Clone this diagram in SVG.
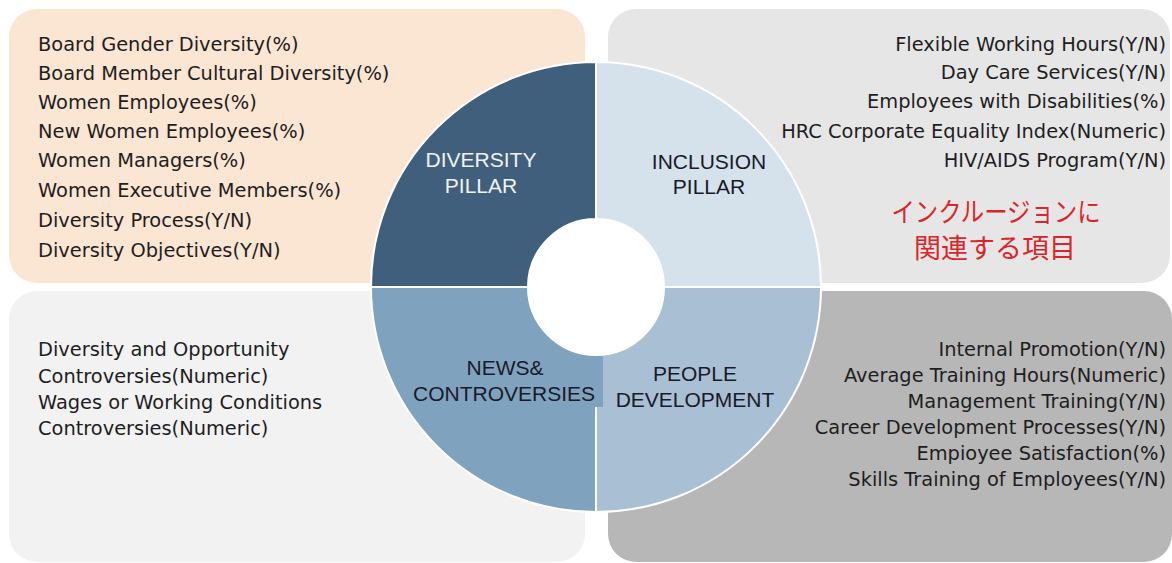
<svg xmlns="http://www.w3.org/2000/svg" width="1172" height="563" viewBox="0 0 1172 563">
<style>
.list{font-family:"DejaVu Sans","Liberation Sans",sans-serif;font-size:19.4px;fill:#1e1e1e}
.end{text-anchor:end}
.pl{font-family:"Liberation Sans",Arial,sans-serif;font-size:21px;text-anchor:middle}
.q{stroke:#ffffff;stroke-width:2}
.jp{font-family:"Noto Sans CJK JP",sans-serif;font-size:27px;fill:#d9262b;text-anchor:middle}
</style>
<rect width="1172" height="563" fill="#ffffff"/>
<g id="panels">
<rect id="panel-diversity" x="9" y="9" width="576" height="274" rx="28" fill="#fbe5d3"/>
<rect id="panel-inclusion" x="608" y="9" width="562" height="274" rx="28" fill="#e6e6e6"/>
<rect id="panel-news" x="9" y="291" width="576" height="271" rx="28" fill="#f2f2f2"/>
<rect id="panel-people" x="608" y="291" width="564" height="271" rx="28" fill="#b7b7b7"/>
</g>
<g id="wheel">
<path id="q-diversity" class="q" d="M371 287 A225 225 0 0 1 596 62 L596 219 A68 68 0 0 0 528 287 Z" fill="#3f5f7c"/>
<path id="q-inclusion" class="q" d="M596 62 A225 225 0 0 1 821 287 L664 287 A68 68 0 0 0 596 219 Z" fill="#d5e1eb"/>
<path id="q-people" class="q" d="M821 287 A225 225 0 0 1 596 512 L596 355 A68 68 0 0 0 664 287 Z" fill="#a9c0d4"/>
<path id="q-news" class="q" d="M596 512 A225 225 0 0 1 371 287 L528 287 A68 68 0 0 0 596 355 Z" fill="#7fa3bf"/>
<rect x="595" y="356" width="8" height="51" fill="#7fa3bf"/>
<circle id="hub" cx="596" cy="287" r="68" fill="#ffffff"/>
</g>
<g id="labels">
<text class="pl" x="481" y="167" fill="#f2f2f2">DIVERSITY</text>
<text class="pl" x="481" y="193" fill="#f2f2f2">PILLAR</text>
<text class="pl" x="709" y="169" fill="#1a1a28">INCLUSION</text>
<text class="pl" x="709" y="194" fill="#1a1a28">PILLAR</text>
<text class="pl" x="505" y="375" fill="#1a1a28">NEWS&amp;</text>
<text class="pl" x="504" y="401" fill="#1a1a28">CONTROVERSIES</text>
<text class="pl" x="695" y="381" fill="#1a1a28">PEOPLE</text>
<text class="pl" x="695" y="407" fill="#1a1a28">DEVELOPMENT</text>
</g>
<g id="list-diversity" class="list">
<text x="38" y="51">Board Gender Diversity(%)</text>
<text x="38" y="80">Board Member Cultural Diversity(%)</text>
<text x="38" y="109">Women Employees(%)</text>
<text x="38" y="138">New Women Employees(%)</text>
<text x="38" y="167">Women Managers(%)</text>
<text x="38" y="197">Women Executive Members(%)</text>
<text x="38" y="227">Diversity Process(Y/N)</text>
<text x="38" y="257">Diversity Objectives(Y/N)</text>
</g>
<g id="list-inclusion" class="list end">
<text x="1166" y="51">Flexible Working Hours(Y/N)</text>
<text x="1166" y="79">Day Care Services(Y/N)</text>
<text x="1166" y="108">Employees with Disabilities(%)</text>
<text x="1166" y="138">HRC Corporate Equality Index(Numeric)</text>
<text x="1166" y="167">HIV/AIDS Program(Y/N)</text>
</g>
<g id="note-jp">
<text class="jp" x="996" y="222" textLength="209" lengthAdjust="spacingAndGlyphs">インクルージョンに</text>
<text class="jp" x="995" y="258">関連する項目</text>
</g>
<g id="list-news" class="list">
<text x="38" y="356">Diversity and Opportunity</text>
<text x="38" y="383">Controversies(Numeric)</text>
<text x="38" y="409">Wages or Working Conditions</text>
<text x="38" y="435">Controversies(Numeric)</text>
</g>
<g id="list-people" class="list end">
<text x="1166" y="356">Internal Promotion(Y/N)</text>
<text x="1166" y="382">Average Training Hours(Numeric)</text>
<text x="1166" y="408">Management Training(Y/N)</text>
<text x="1166" y="434">Career Development Processes(Y/N)</text>
<text x="1166" y="460">Empioyee Satisfaction(%)</text>
<text x="1166" y="486">Skills Training of Employees(Y/N)</text>
</g>
<g id="connectors"></g>
</svg>
